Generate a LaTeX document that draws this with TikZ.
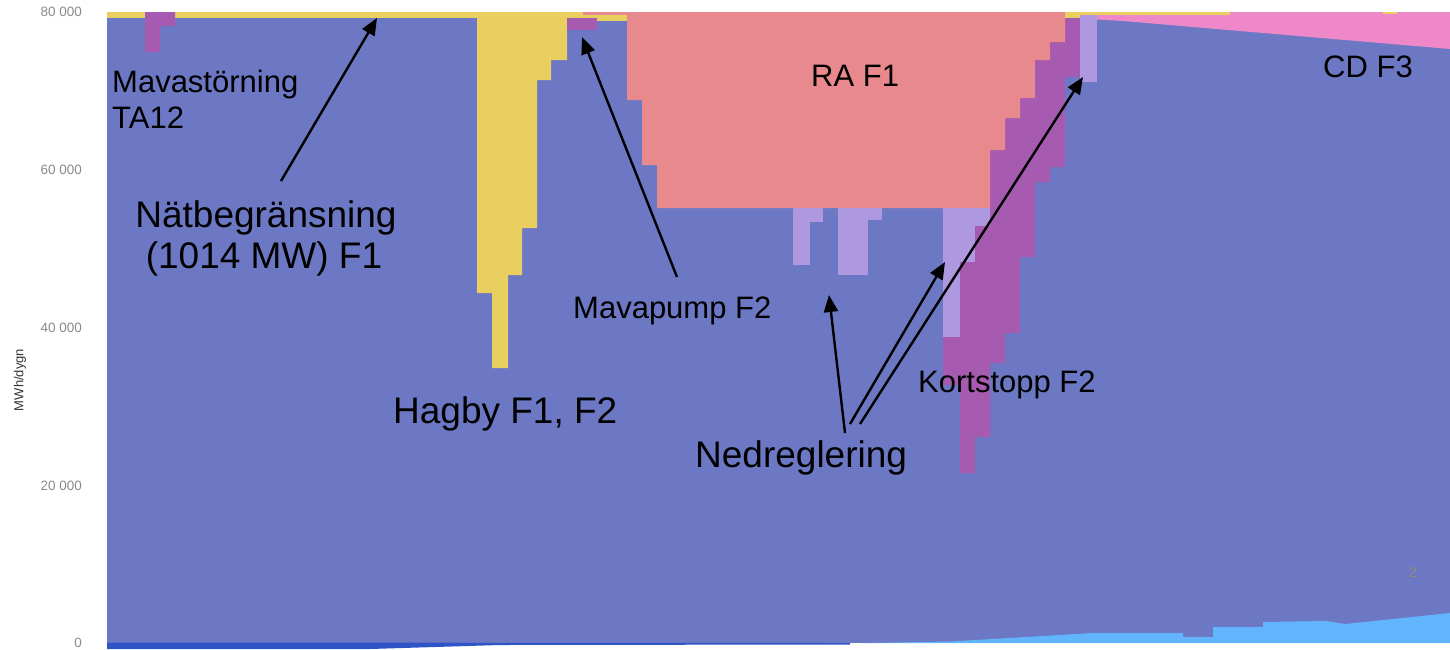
\documentclass[tikz,border=0pt]{standalone}
\usepackage{fontspec}
\setmainfont{Liberation Sans}
\usetikzlibrary{arrows.meta}
\definecolor{cBlue}{HTML}{6C78C3}
\definecolor{cYellow}{HTML}{E9CF5F}
\definecolor{cSalmon}{HTML}{E8898D}
\definecolor{cPurple}{HTML}{A65BB1}
\definecolor{cLav}{HTML}{AE98E0}
\definecolor{cPink}{HTML}{EE88C8}
\definecolor{cLight}{HTML}{62B4FC}
\definecolor{cDark}{HTML}{2E55C6}
\definecolor{cTick}{HTML}{8A8A8A}
\definecolor{cPage}{HTML}{968C6E}
\tikzset{
  lblS/.style={font=\fontsize{31}{36}\selectfont, inner sep=0pt, anchor=base west},
  lblL/.style={font=\fontsize{37}{42}\selectfont, inner sep=0pt, anchor=base},
  lblLw/.style={font=\fontsize{37}{42}\selectfont, inner sep=0pt, anchor=base west},
  ticklbl/.style={font=\fontsize{13.5}{15}\selectfont, text=cTick, inner sep=0pt, anchor=east},
  arr/.style={line width=2.4pt, -{Triangle[length=17pt,width=14pt]}},
}
\begin{document}
\begin{tikzpicture}[x=1pt,y=-1pt]
\useasboundingbox (0,0) rectangle (1450,649);
\fill[white] (0,0) rectangle (1450,649);
% main blue area
\fill[cBlue] (107,12) rectangle (1450,643);
% top yellow strip
\fill[cYellow] (107,12) rectangle (583,17.5);
% Mavastorning
\fill[cPurple] (145,12) -- (175,12) -- (175,26) -- (160,26) -- (160,52) -- (145,52) -- cycle;
% Hagby yellow
\fill[cYellow] (477,12) -- (477,293) -- (492,293) -- (492,368) -- (508,368) -- (508,275)
  -- (522,275) -- (522,228) -- (537,228) -- (537,80) -- (551,80) -- (551,60)
  -- (567,60) -- (567,12) -- cycle;
\fill[cYellow] (567,12) rectangle (627,20.5);
\fill[cSalmon] (583,12) rectangle (627,15);
\fill[cPurple] (567,18) rectangle (597,30);
% Kortstopp purple
\fill[cPurple] (943,208) -- (943,385) -- (960,385) -- (960,473) -- (975,473) -- (975,437)
  -- (990,437) -- (990,363) -- (1005,363) -- (1005,333) -- (1020,333) -- (1020,257)
  -- (1035,257) -- (1035,182) -- (1050,182) -- (1050,167) -- (1065,167) -- (1065,77)
  -- (1080,77) -- (1080,18) -- (943,18) -- cycle;
% RA salmon
\fill[cSalmon] (627,12) -- (627,100) -- (642,100) -- (642,165) -- (657,165) -- (657,208)
  -- (990,208) -- (990,150) -- (1005,150) -- (1005,118) -- (1020,118) -- (1020,98)
  -- (1035,98) -- (1035,60) -- (1050,60) -- (1050,42) -- (1065,42) -- (1065,12) -- cycle;
% lavender
\fill[cLav] (943,208) rectangle (960,337);
\fill[cLav] (960,208) rectangle (975,262);
\fill[cLav] (975,208) rectangle (990,226);
\fill[cLav] (793,208) rectangle (810,265);
\fill[cLav] (810,208) rectangle (823,222);
\fill[cLav] (838,208) rectangle (868,275);
\fill[cLav] (868,208) rectangle (882,220);
\fill[cLav] (1080,15) rectangle (1097,82);
% CD pink
\fill[cPink] (1080,12) -- (1450,12) -- (1450,49) -- (1123,21) -- (1097,19.5) -- (1097,15)
  -- (1080,15) -- cycle;
\fill[cYellow] (1065,12) rectangle (1080,18);
\fill[cYellow] (1080,12) rectangle (1230,14.5);
\fill[cYellow] (1383,12) rectangle (1397,14);
% bottom bands
\fill[cDark] (107,642.5) -- (850,643) -- (850,644.5) -- (500,645) -- (370,649) -- (107,649) -- cycle;
\fill[cLight] (860,643) -- (950,641.5) -- (1093,633) -- (1183,633) -- (1183,637) -- (1213,637)
  -- (1213,627) -- (1263,627) -- (1263,622) -- (1327,621) -- (1345,624) -- (1450,613)
  -- (1450,643) -- cycle;
% axis
\node[ticklbl] (t80) at (82,12) {80 000};
\node[ticklbl] (t60) at (82,170) {60 000};
\node[ticklbl] (t40) at (82,328) {40 000};
\node[ticklbl] (t20) at (82,486) {20 000};
\node[ticklbl] (t0) at (82,643) {0};
\node[font=\fontsize{13}{15}\selectfont, text=black!80, rotate=90, inner sep=0pt] (ylab) at (20,380) {MWh/dygn};
\node[font=\fontsize{14}{16}\selectfont, text=cPage, inner sep=0pt] (page) at (1413,573) {2};
% labels
\node[lblS] (mava1) at (112,92) {Mavastörning};
\node[lblS] (mava2) at (112,128) {TA12};
\node[lblL] (nat1) at (266,227) {Nätbegränsning};
\node[lblL] (nat2) at (264,268) {(1014 MW) F1};
\node[lblS] (pump) at (573,318) {Mavapump F2};
\node[lblLw] (hag) at (393,423) {Hagby F1, F2};
\node[lblLw] (ned) at (695,467) {Nedreglering};
\node[lblS] (kort) at (918,392) {Kortstopp F2};
\node[lblS] (ra) at (811,86) {RA F1};
\node[lblS] (cd) at (1323,77) {CD F3};
% arrows
\coordinate (natT) at (281,181);
\coordinate (natH) at (377,18);
\coordinate (pumpT) at (677,277);
\coordinate (pumpH) at (582,37);
\coordinate (nedT1) at (845,433);
\coordinate (nedH1) at (829,295);
\coordinate (nedT2) at (850,424);
\coordinate (nedH2) at (945,262);
\coordinate (nedT3) at (860,424);
\coordinate (nedH3) at (1083,77);
\draw[arr] (natT) -- (natH);
\draw[arr] (pumpT) -- (pumpH);
\draw[arr] (nedT1) -- (nedH1);
\draw[arr] (nedT2) -- (nedH2);
\draw[arr] (nedT3) -- (nedH3);
\end{tikzpicture}
\end{document}
